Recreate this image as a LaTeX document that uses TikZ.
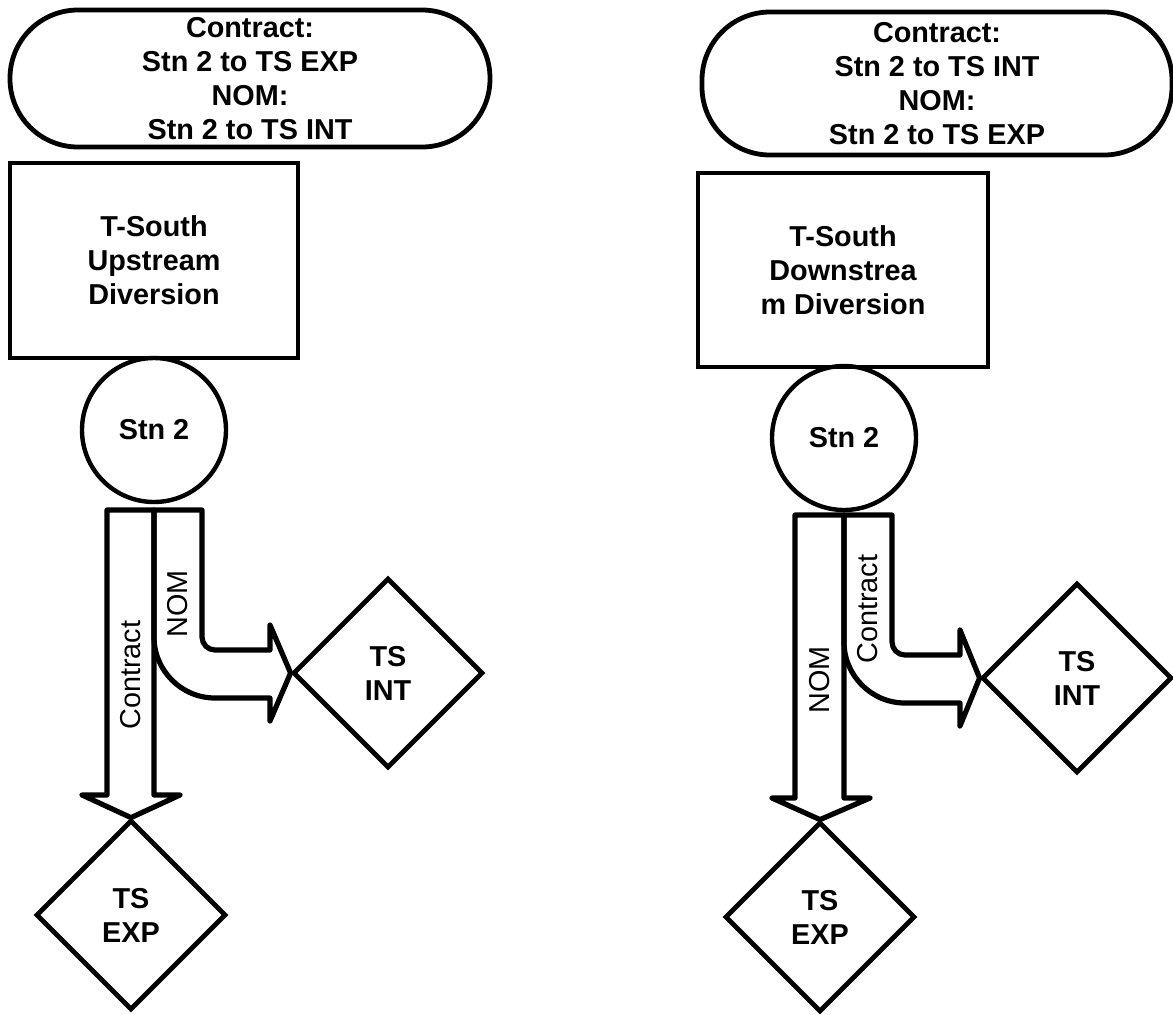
\documentclass[tikz,border=0pt]{standalone}
\usepackage{fontspec}
\setmainfont{Liberation Sans}
\usetikzlibrary{shapes.geometric}

\tikzset{
  lbl/.style={font=\fontsize{14.4}{17}\selectfont},
  term/.style={draw, line width=2.4pt, rounded corners=34pt, align=center,
    inner sep=0pt, font=\bfseries\fontsize{14.4}{17}\selectfont},
  divbox/.style={draw, line width=2.4pt, align=center, inner sep=0pt,
    font=\bfseries\fontsize{14.4}{17}\selectfont},
  stn/.style={circle, draw, line width=2.2pt, minimum size=72pt, inner sep=0pt,
    font=\bfseries\fontsize{14.4}{17}\selectfont},
  site/.style={diamond, draw, line width=2.4pt, aspect=1, minimum width=95pt,
    minimum height=95pt, inner sep=0pt, align=center,
    font=\bfseries\fontsize{14.4}{17}\selectfont},
  flowlbl/.style={lbl, rotate=90, inner sep=0pt},
  blockarrow/.style={draw, line width=2.6pt, line join=round}
}

\begin{document}
\begin{tikzpicture}[x=0.5pt,y=-0.5pt]
\useasboundingbox (0,0) rectangle (1173,1014);
%Left case: upstream diversion
\node[term, minimum width=240pt, minimum height=68.5pt] (contrL) at (250,78.5)
    {Contract:\\Stn 2 to TS EXP\\NOM:\\Stn 2 to TS INT};
\node[divbox, minimum width=144pt, minimum height=97.5pt] (divL) at (154,260.5)
    {T-South\\Upstream\\Diversion};
\node[stn] (stnL) at (154,430) {Stn 2};
\node[site] (intL) at (388,673) {TS\\INT};
\node[site] (expL) at (131,915) {TS\\EXP};
% straight arrow down to TS EXP
\draw[blockarrow] (107,510) -- (154,510) -- (154,795) -- (180,795)
    -- (expL.north) -- (82,795) -- (107,795) -- cycle;
% bent arrow over to TS INT
\draw[blockarrow] (154,510) -- (202,510) -- (202,637)
    .. controls (202,644.2) and (207.8,650) .. (215,650) -- (270,650)
    -- (270,625) -- (intL.west) -- (270,721) -- (270,698) -- (215,698)
    .. controls (181.3,698) and (154,670.3) .. (154,637) -- cycle;
\node[flowlbl] (cflowL) at (130.5,675) {Contract};
\node[flowlbl] (nflowL) at (178,604) {NOM};

%Right case: downstream diversion
\node[term, minimum width=235pt, minimum height=71.5pt] (contrR) at (937,83.5)
    {Contract:\\Stn 2 to TS INT\\NOM:\\Stn 2 to TS EXP};
\node[divbox, minimum width=145pt, minimum height=97pt] (divR) at (843,270)
    {T-South\\Downstrea\\m Diversion};
\node[stn] (stnR) at (844,438) {Stn 2};
\node[site] (intR) at (1077,678) {TS\\INT};
\node[site] (expR) at (820,917) {TS\\EXP};
% straight arrow down to TS EXP
\draw[blockarrow] (795,515) -- (844,515) -- (844,798) -- (870,798)
    -- (expR.north) -- (772,798) -- (795,798) -- cycle;
% bent arrow over to TS INT
\draw[blockarrow] (844,515) -- (892,515) -- (892,642)
    .. controls (892,649.2) and (897.8,655) .. (905,655) -- (960,655)
    -- (960,630) -- (intR.west) -- (960,726) -- (960,703) -- (905,703)
    .. controls (871.3,703) and (844,675.3) .. (844,642) -- cycle;
\node[flowlbl] (nflowR) at (819.5,680) {NOM};
\node[flowlbl] (cflowR) at (868,609) {Contract};
\end{tikzpicture}
\end{document}
